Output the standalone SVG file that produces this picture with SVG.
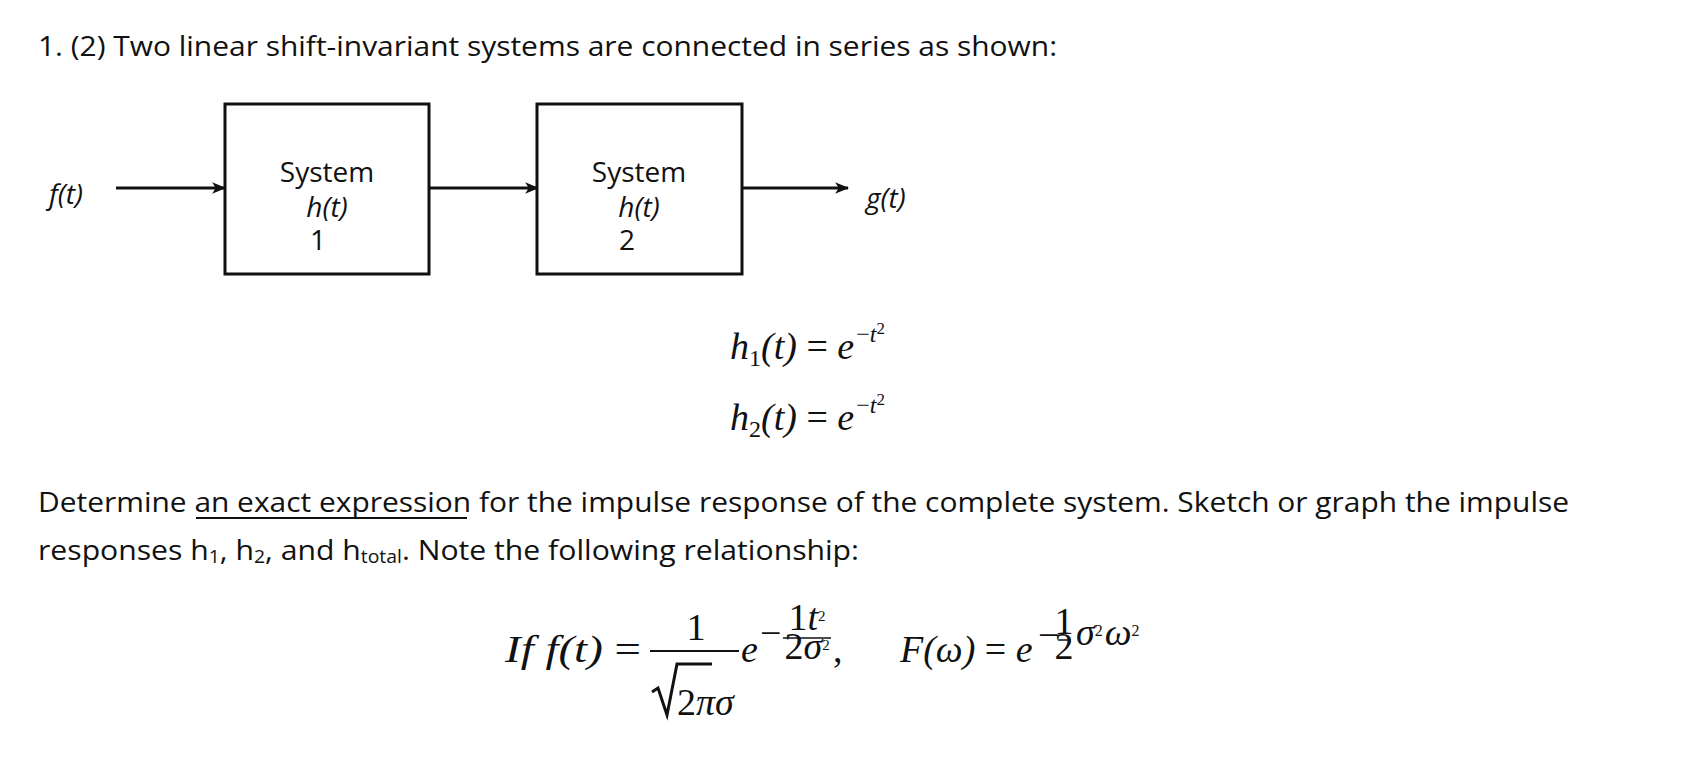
<svg xmlns="http://www.w3.org/2000/svg" width="1704" height="780" viewBox="0 0 1704 780">
<defs>
<style>
.t{font-family:"Open Sans","Liberation Sans",sans-serif;font-size:28px;fill:#111}
.s{font-family:"Open Sans","Liberation Sans",sans-serif;font-size:28px;fill:#111}
.m{font-family:"Liberation Serif","DejaVu Serif",serif;font-style:italic;font-size:38px;fill:#111}
.mn{font-family:"Liberation Serif","DejaVu Serif",serif;font-size:38px;fill:#111}
.box{fill:#fff;stroke:#111;stroke-width:3}
.ln{stroke:#111;stroke-width:3;fill:none}
</style>
<marker id="ah" viewBox="0 0 12 10" refX="11" refY="5" markerWidth="14" markerHeight="12" markerUnits="userSpaceOnUse" orient="auto"><path d="M0,0 L12,5 L0,10 L3,5 z" fill="#111"/></marker>
</defs>
<rect width="1704" height="780" fill="#fff"/>
<text class="t" x="38" y="56" textLength="1019" lengthAdjust="spacingAndGlyphs">1. (2) Two linear shift-invariant systems are connected in series as shown:</text>
<g id="connectors">
<line class="ln" x1="116" y1="188" x2="225" y2="188" marker-end="url(#ah)"/>
<line class="ln" x1="429" y1="188" x2="538" y2="188" marker-end="url(#ah)"/>
<line class="ln" x1="742" y1="188" x2="848" y2="188" marker-end="url(#ah)"/>
</g>
<g id="input"><text class="s" x="49" y="204" font-size="30" font-style="italic">f(t)</text></g>
<g id="output"><text class="s" x="866" y="208" font-size="30" font-style="italic">g(t)</text></g>
<g id="system1">
<rect class="box" x="225" y="104" width="204" height="170"/>
<text class="s" x="327" y="182" text-anchor="middle">System</text>
<text class="s" x="327" y="217" text-anchor="middle" font-style="italic">h(t)</text>
<text class="s" x="318" y="250" text-anchor="middle" font-size="21">1</text>
</g>
<g id="system2">
<rect class="box" x="537" y="104" width="205" height="170"/>
<text class="s" x="639" y="182" text-anchor="middle">System</text>
<text class="s" x="639" y="217" text-anchor="middle" font-style="italic">h(t)</text>
<text class="s" x="627" y="250" text-anchor="middle" font-size="21">2</text>
</g>
<text class="m" x="730" y="359">h<tspan font-style="normal" font-size="24" dy="7">1</tspan><tspan dy="-7">(t) </tspan><tspan font-style="normal">= </tspan>e<tspan font-size="24" dy="-17" dx="2"><tspan font-style="normal">−</tspan>t<tspan font-style="normal" font-size="17" dy="-8">2</tspan></tspan></text>
<text class="m" x="730" y="430">h<tspan font-style="normal" font-size="24" dy="7">2</tspan><tspan dy="-7">(t) </tspan><tspan font-style="normal">= </tspan>e<tspan font-size="24" dy="-17" dx="2"><tspan font-style="normal">−</tspan>t<tspan font-style="normal" font-size="17" dy="-8">2</tspan></tspan></text>
<text class="t" x="38" y="512" textLength="1531" lengthAdjust="spacingAndGlyphs">Determine an exact expression for the impulse response of the complete system.  Sketch or graph the impulse</text>
<line x1="196" y1="518" x2="467" y2="518" stroke="#111" stroke-width="2"/>
<text class="t" x="38" y="560" textLength="821" lengthAdjust="spacingAndGlyphs">responses h<tspan font-size="18" dy="3">1</tspan><tspan dy="-3">, h</tspan><tspan font-size="18" dy="3">2</tspan><tspan dy="-3">, and h</tspan><tspan font-size="18" dy="3">total</tspan><tspan dy="-3">.  Note the following relationship:</tspan></text>
<text class="m" x="505" y="662" textLength="136" lengthAdjust="spacingAndGlyphs">If f(t) <tspan font-style="normal">=</tspan></text>
<text class="mn" x="696" y="640" text-anchor="middle">1</text>
<line x1="650" y1="651" x2="739" y2="651" stroke="#111" stroke-width="2"/>
<path d="M652,692 L658,688 L667,715 L677,664 L712,664" class="ln" stroke-width="2"/>
<text class="mn" x="677" y="715">2<tspan font-style="italic">πσ</tspan></text>
<text class="m" x="741" y="662">e</text>
<text class="mn" x="760" y="646" font-size="24">−</text>
<text class="m" x="807" y="630" font-size="22" text-anchor="middle"><tspan font-style="normal">1</tspan>t<tspan font-style="normal" font-size="15" dy="-9">2</tspan></text>
<line x1="783" y1="638" x2="831" y2="638" stroke="#111" stroke-width="1.5"/>
<text class="mn" x="807" y="659" font-size="21" text-anchor="middle">2<tspan font-style="italic">σ</tspan><tspan font-size="15" dy="-9">2</tspan></text>
<text class="mn" x="833" y="662">,</text>
<text class="m" x="900" y="662">F(ω) <tspan font-style="normal">= </tspan>e</text>
<text class="mn" x="1038" y="648" font-size="24">−</text>
<text class="mn" x="1064" y="634" font-size="18" text-anchor="middle">1</text>
<line x1="1058" y1="640" x2="1071" y2="640" stroke="#111" stroke-width="1.5"/>
<text class="mn" x="1064" y="659" font-size="18" text-anchor="middle">2</text>
<text class="m" x="1076" y="645" font-size="23">σ<tspan font-style="normal" font-size="16" dy="-9">2</tspan><tspan dy="9" dx="2">ω</tspan><tspan font-style="normal" font-size="16" dy="-9">2</tspan></text>
</svg>
